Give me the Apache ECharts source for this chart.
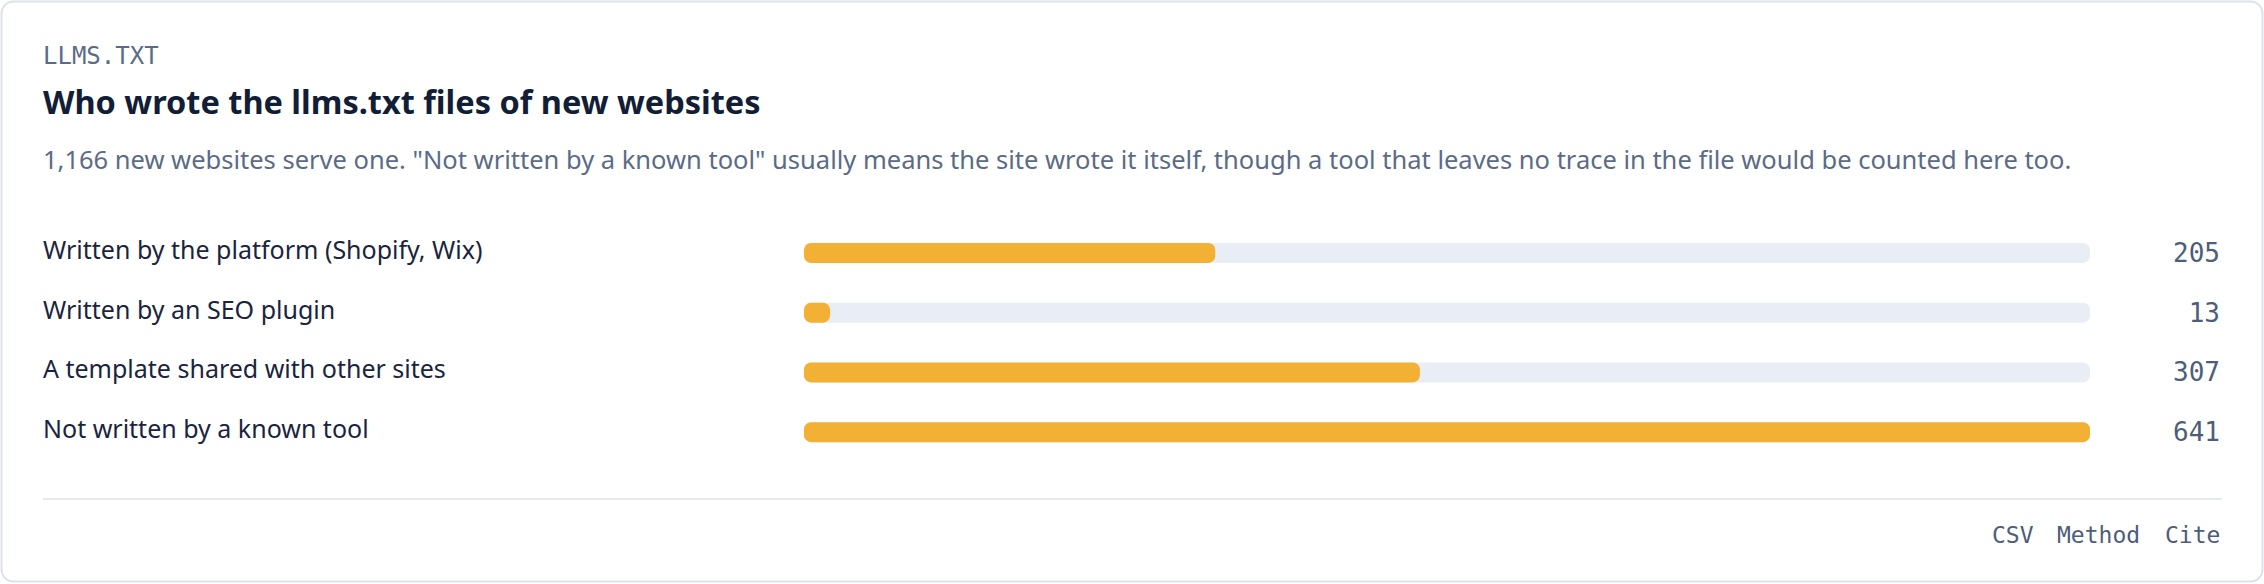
<!DOCTYPE html>
<html>
<head>
<meta charset="utf-8">
<script src="https://cdn.jsdelivr.net/npm/echarts@6/dist/echarts.min.js"></script>
<style>
html,body{margin:0;padding:0;background:#ffffff;}
#chart{width:2264px;height:584px;}
</style>
</head>
<body>
<div id="chart"></div>
<script>
const kicker = 'LLMS.TXT';
const titleText = 'Who wrote the llms.txt files of new websites';
const subtitleText = '1,166 new websites serve one. "Not written by a known tool" usually means the site wrote it itself, though a tool that leaves no trace in the file would be counted here too.';
const categories = ['Written by the platform (Shopify, Wix)', 'Written by an SEO plugin', 'A template shared with other sites', 'Not written by a known tool'];
const values = [205, 13, 307, 641];
const footerLinks = ['CSV', 'Method', 'Cite'];

const maxVal = Math.max.apply(null, values);
const sans = '"Noto Sans", Lato, sans-serif';
const mono = '"DejaVu Sans Mono", "Liberation Mono", monospace';

const chart = echarts.init(document.getElementById('chart'), null, {renderer: 'svg'});

const footerX = [1992, 2057, 2165];
const footerGraphics = footerLinks.map((t, i) => ({
  type: 'text', left: footerX[i], top: 523, z: 10,
  style: {text: t, font: '23px ' + mono, fill: '#4d5d7a'}
}));

chart.setOption({
  animation: false,
  backgroundColor: '#ffffff',
  grid: {left: 804, right: 174, top: 223, bottom: 122, containLabel: false},
  xAxis: {type: 'value', min: 0, max: maxVal, show: false},
  yAxis: [
    {
      type: 'category', data: categories, inverse: true,
      axisLine: {show: false}, axisTick: {show: false}, splitLine: {show: false},
      axisLabel: {
        align: 'left', margin: 761,
        formatter: v => '{a|' + v + '}',
        rich: {a: {color: '#1a2440', fontSize: 25, fontFamily: sans, padding: [0, 0, 8, 0]}}
      }
    },
    {
      type: 'category', data: values.map(String), inverse: true, position: 'right',
      axisLine: {show: false}, axisTick: {show: false}, splitLine: {show: false},
      axisLabel: {align: 'right', margin: 130, color: '#4d5d7a', fontSize: 26, fontFamily: mono}
    }
  ],
  series: [
    {
      type: 'bar', data: values.map(() => maxVal), barWidth: 20, barGap: '-100%',
      itemStyle: {color: '#e9edf6', borderRadius: 7}, silent: true, z: 1
    },
    {
      type: 'bar', data: values, barWidth: 20,
      itemStyle: {color: '#f2b134', borderRadius: 7}, z: 2
    }
  ],
  graphic: [
    {type: 'rect', shape: {x: 1.5, y: 1.5, width: 2261, height: 580, r: 12},
     style: {fill: '#ffffff', stroke: '#dde2ec', lineWidth: 2}, z: -10, silent: true},
    {type: 'text', left: 43, top: 44, style: {text: kicker, font: '24px ' + mono, fill: '#5b6b87'}},
    {type: 'text', left: 43, top: 85, style: {text: titleText, font: 'bold 32.5px ' + sans, fill: '#121d36'}},
    {type: 'text', left: 43, top: 146, style: {text: subtitleText, font: '25.5px ' + sans, fill: '#5b6b87'}},
    {type: 'line', shape: {x1: 43, y1: 499, x2: 2222, y2: 499}, style: {stroke: '#e6e9f0', lineWidth: 2}}
  ].concat(footerGraphics)
});
</script>
</body>
</html>
